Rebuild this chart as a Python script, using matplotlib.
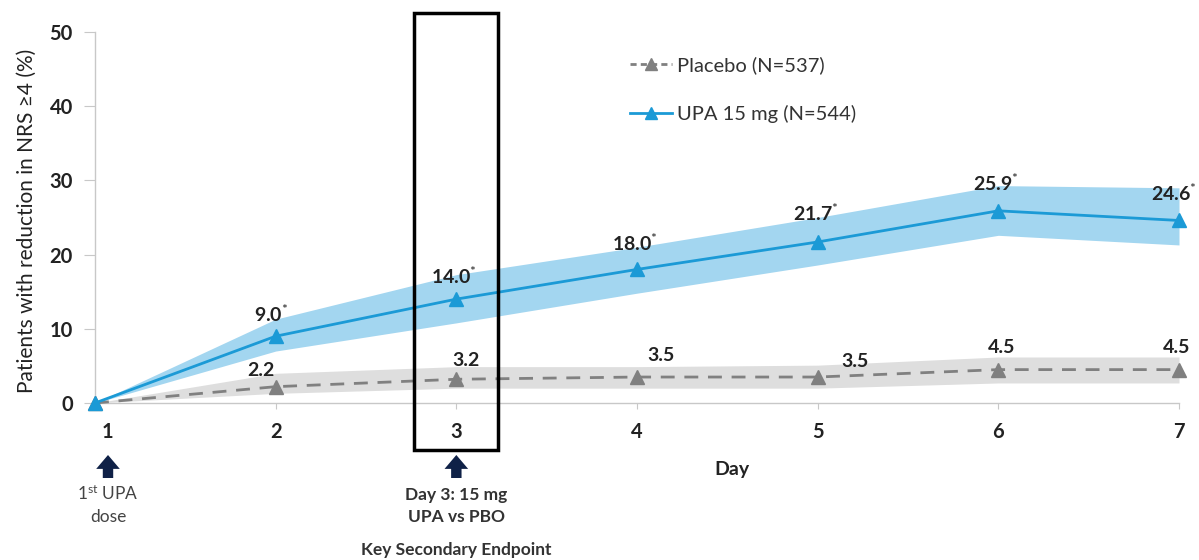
import matplotlib
matplotlib.use("Agg")
import matplotlib.pyplot as plt
from matplotlib.patches import Rectangle
from matplotlib.lines import Line2D
import matplotlib.transforms as mtransforms

plt.rcParams['font.family'] = ['Lato', 'DejaVu Sans']
plt.rcParams['mathtext.fontset'] = 'custom'
plt.rcParams['mathtext.rm'] = 'Lato'
plt.rcParams['mathtext.bf'] = 'Lato:bold'
plt.rcParams['mathtext.it'] = 'Lato:italic'

# Data
days = [1, 2, 3, 4, 5, 6, 7]
upa = [0.0, 9.0, 14.0, 18.0, 21.7, 25.9, 24.6]
upa_lo = [0.0, 7.0, 10.8, 14.8, 18.6, 22.6, 21.3]
upa_hi = [0.0, 11.3, 17.3, 21.0, 25.0, 29.3, 29.0]
pbo = [0.0, 2.2, 3.2, 3.5, 3.5, 4.5, 4.5]
pbo_lo = [0.0, 1.3, 2.0, 2.0, 2.0, 2.7, 2.7]
pbo_hi = [0.0, 4.0, 4.9, 4.9, 5.1, 6.2, 6.2]
y_ticks = [0, 10, 20, 30, 40, 50]
upa_label = "UPA 15 mg (N=544)"
pbo_label = "Placebo (N=537)"

# Label offsets in pixels (dx, dy) for each day
upa_off = [None, (-4, 22), (-2, 23), (-2, 26), (-2, 29), (-2, 28), (-5, 27)]
pbo_off = [None, (-15, 16), (10, 19), (24, 22), (37, 16), (3, 22), (-2, 22)]

UPA_C = "#1b9ad6"
UPA_BAND = "#a3d6f0"
PBO_C = "#808080"
PBO_BAND = "#dedede"
TXT = "#222222"

fig = plt.figure(figsize=(11.99, 5.6), dpi=100)
ax = fig.add_axes([95 / 1199, 1 - 403 / 560, 1084 / 1199, 371 / 560])

ax.fill_between(days, pbo_lo, pbo_hi, color=PBO_BAND, lw=0, zorder=1)
ax.fill_between(days, upa_lo, upa_hi, color=UPA_BAND, lw=0, zorder=1)

pbo_line, = ax.plot(days, pbo, color=PBO_C, lw=2.0, ls=(0, (5, 3.5)),
                    marker="^", markersize=10, zorder=3, clip_on=False)
upa_line, = ax.plot(days, upa, color=UPA_C, lw=2.0,
                    marker="^", markersize=10, zorder=4, clip_on=False)

for d, v, off in zip(days, upa, upa_off):
    if off is None:
        continue
    ax.annotate(f"{v:.1f}" + r"$^{*}$", xy=(d, v), xytext=off,
                textcoords="offset pixels", ha="center", va="center",
                fontsize=14, fontweight="bold", color=TXT, zorder=5)
for d, v, off in zip(days, pbo, pbo_off):
    if off is None:
        continue
    ax.annotate(f"{v:.1f}", xy=(d, v), xytext=off,
                textcoords="offset pixels", ha="center", va="center",
                fontsize=14, fontweight="bold", color=TXT, zorder=5)

ax.set_xlim(1, 7)
ax.set_ylim(0, 50)
ax.set_xticks(days)
ax.set_xticklabels([str(d) for d in days])
ax.set_yticks(y_ticks)
ax.set_yticklabels([str(t) for t in y_ticks])

for s in ("top", "right"):
    ax.spines[s].set_visible(False)
for s in ("left", "bottom"):
    ax.spines[s].set_color("#c8c8c8")
    ax.spines[s].set_linewidth(1.0)
ax.tick_params(axis="y", length=8, width=0.8, color="#c8c8c8", pad=8,
               labelsize=14.5, labelcolor=TXT)
ax.tick_params(axis="x", length=4, width=0.8, color="#c8c8c8", pad=10,
               labelsize=14.5, labelcolor=TXT)
for lab in ax.get_xticklabels() + ax.get_yticklabels():
    lab.set_fontweight("bold")
# nudge the first day label slightly to the right
first = ax.get_xticklabels()[0]
first.set_transform(first.get_transform() +
                    mtransforms.ScaledTranslation(12 / 100, 0, fig.dpi_scale_trans))

ax.set_ylabel("Patients with reduction in NRS \u22654 (%)", fontsize=15,
              color=TXT)
ax.yaxis.set_label_coords(-0.0535, 0.49)
fig.text(732 / 1199, 1 - 469 / 560, "Day", ha="center", va="center",
         fontsize=14, fontweight="bold", color=TXT)

# Legend
h_pbo = Line2D([], [], color=PBO_C, lw=2.0, ls=(0, (2.2, 1.5)), marker="^", markersize=9)
h_upa = Line2D([], [], color=UPA_C, lw=2.0, marker="^", markersize=9)
fig.legend([h_pbo, h_upa], [pbo_label, upa_label], loc="upper left",
           bbox_to_anchor=(620 / 1199, 1 - 46 / 560), frameon=False,
           fontsize=14.5, handlelength=2.1, handletextpad=0.25, labelspacing=1.55,
           borderpad=0, labelcolor="#333333")

# Highlight box around the day-3 endpoint
trans = mtransforms.blended_transform_factory(ax.transData, fig.transFigure)
half = 42 / 180.7
box = Rectangle((3 - half, 1 - 450 / 560), 2 * half, (450 - 13) / 560,
                transform=trans, fill=False, edgecolor="black", lw=2.5,
                clip_on=False, zorder=6)
fig.add_artist(box)

# Arrows and annotations under the axis
arrow_props = dict(arrowstyle="simple,head_width=1.7,head_length=1.0,tail_width=0.75",
                   color="#0f2147", lw=0, shrinkA=0, shrinkB=0)
for xd in (1 + 13 / 180.7, 3):
    ax.annotate("", xy=(xd, 1 - 455 / 560), xytext=(xd, 1 - 478 / 560),
                xycoords=trans, textcoords=trans, arrowprops=arrow_props)

ax.text(1 + 13 / 180.7, 1 - 505 / 560, "1$^{\\mathrm{st}}$ UPA\ndose",
        transform=trans, ha="center", va="center", fontsize=12.5,
        color="#444444", linespacing=1.45)
ax.text(3, 1 - 506 / 560, "Day 3: 15 mg\nUPA vs PBO", transform=trans,
        ha="center", va="center", fontsize=12.5, fontweight="bold",
        color="#333333", linespacing=1.4)
ax.text(3, 1 - 550 / 560, "Key Secondary Endpoint", transform=trans,
        ha="center", va="center", fontsize=12.5, fontweight="bold",
        color="#333333")

fig.savefig("out.png", dpi=100)
